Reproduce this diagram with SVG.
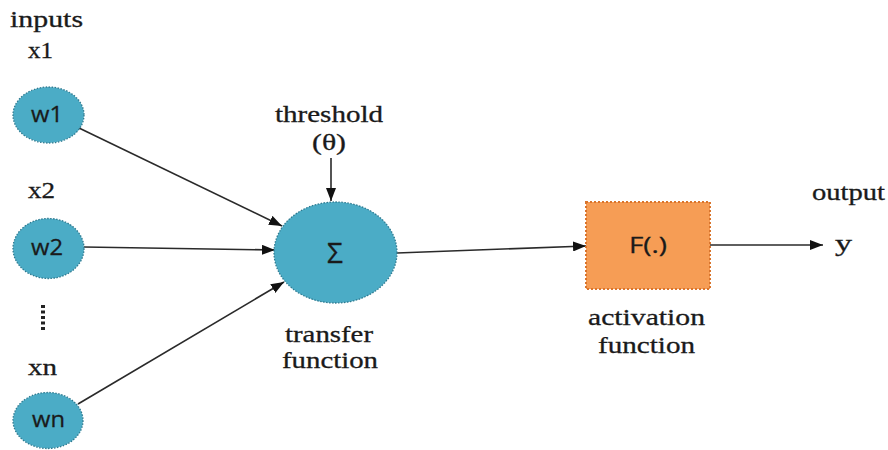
<svg xmlns="http://www.w3.org/2000/svg" width="888" height="450" viewBox="0 0 888 450">
  <style>
    .lbl { font-family: "Liberation Serif", "Times New Roman", serif; font-size: 23px; fill: #1a1a1a; stroke: #1a1a1a; stroke-width: 0.3; }
    .sym { font-family: "Open Sans", "Liberation Sans", sans-serif; font-size: 22px; fill: #1a1a1a; stroke: #1a1a1a; stroke-width: 0.3; }
    .neuron { fill: #4BACC6; stroke: #2E7A90; stroke-width: 1.3; stroke-dasharray: 1.5 1.5; }
    .act { fill: #F69D55; stroke: #D9742C; stroke-width: 2; stroke-dasharray: 2 2; }
    .edge { stroke: #2a2a2a; stroke-width: 1.6; fill: none; marker-end: url(#arrow); }
  </style>
  <defs>
    <marker id="arrow" markerUnits="userSpaceOnUse" markerWidth="14" markerHeight="10" refX="13" refY="5" orient="auto">
      <path d="M0,0 L13,5 L0,10 Z" fill="#111"/>
    </marker>
  </defs>
  <rect width="888" height="450" fill="#ffffff"/>

  <!-- connectors -->
  <g id="connectors">
    <line class="edge" x1="79" y1="128" x2="282" y2="226"/>
    <line class="edge" x1="84" y1="247" x2="275" y2="250"/>
    <line class="edge" x1="78" y1="404" x2="284" y2="282"/>
    <line class="edge" x1="331" y1="158" x2="331" y2="201"/>
    <line class="edge" x1="397" y1="253" x2="586" y2="246"/>
    <line class="edge" x1="710" y1="245" x2="823" y2="245"/>
  </g>

  <!-- input labels -->
  <g id="inputs-label">
    <text class="lbl" x="10" y="27" textLength="73" lengthAdjust="spacingAndGlyphs">inputs</text>
  </g>

  <g id="input-1">
    <text class="lbl" x="28" y="58" textLength="25" lengthAdjust="spacingAndGlyphs">x1</text>
    <ellipse class="neuron" cx="48.5" cy="115" rx="35.5" ry="28"/>
    <text class="sym" x="31" y="122" textLength="32" lengthAdjust="spacingAndGlyphs">w1</text>
  </g>

  <g id="input-2">
    <text class="lbl" x="28" y="198" textLength="27" lengthAdjust="spacingAndGlyphs">x2</text>
    <ellipse class="neuron" cx="48.5" cy="248.5" rx="35.5" ry="30"/>
    <text class="sym" x="31" y="255" textLength="32" lengthAdjust="spacingAndGlyphs">w2</text>
  </g>

  <!-- vertical ellipsis between inputs -->
  <g id="ellipsis">
    <line x1="43" y1="305" x2="43" y2="330" stroke="#222" stroke-width="4" stroke-dasharray="3 2.5"/>
  </g>

  <g id="input-n">
    <text class="lbl" x="28" y="375" textLength="29" lengthAdjust="spacingAndGlyphs">xn</text>
    <ellipse class="neuron" cx="48" cy="420.5" rx="35" ry="28"/>
    <text class="sym" x="32" y="427" textLength="33" lengthAdjust="spacingAndGlyphs">wn</text>
  </g>

  <!-- threshold -->
  <g id="threshold">
    <text class="lbl" x="275" y="122" textLength="108" lengthAdjust="spacingAndGlyphs">threshold</text>
    <text class="lbl" x="312" y="150" textLength="34" lengthAdjust="spacingAndGlyphs">(θ)</text>
  </g>

  <!-- summation / transfer function -->
  <g id="transfer">
    <ellipse class="neuron" cx="335.5" cy="252.5" rx="61.5" ry="50.5"/>
    <text class="sym" x="335" y="263" text-anchor="middle" style="font-size:28px">Σ</text>
    <text class="lbl" x="285" y="342" textLength="88" lengthAdjust="spacingAndGlyphs">transfer</text>
    <text class="lbl" x="282" y="368" textLength="96" lengthAdjust="spacingAndGlyphs">function</text>
  </g>

  <!-- activation function -->
  <g id="activation">
    <rect class="act" x="586" y="202" width="124" height="87"/>
    <text class="sym" x="629" y="253" textLength="38" lengthAdjust="spacingAndGlyphs">F(.)</text>
    <text class="lbl" x="588" y="325" textLength="117" lengthAdjust="spacingAndGlyphs">activation</text>
    <text class="lbl" x="598" y="353" textLength="97" lengthAdjust="spacingAndGlyphs">function</text>
  </g>

  <!-- output -->
  <g id="output">
    <text class="lbl" x="812" y="200" textLength="73" lengthAdjust="spacingAndGlyphs">output</text>
    <text class="lbl" x="835" y="251" textLength="17" lengthAdjust="spacingAndGlyphs">y</text>
  </g>
</svg>
